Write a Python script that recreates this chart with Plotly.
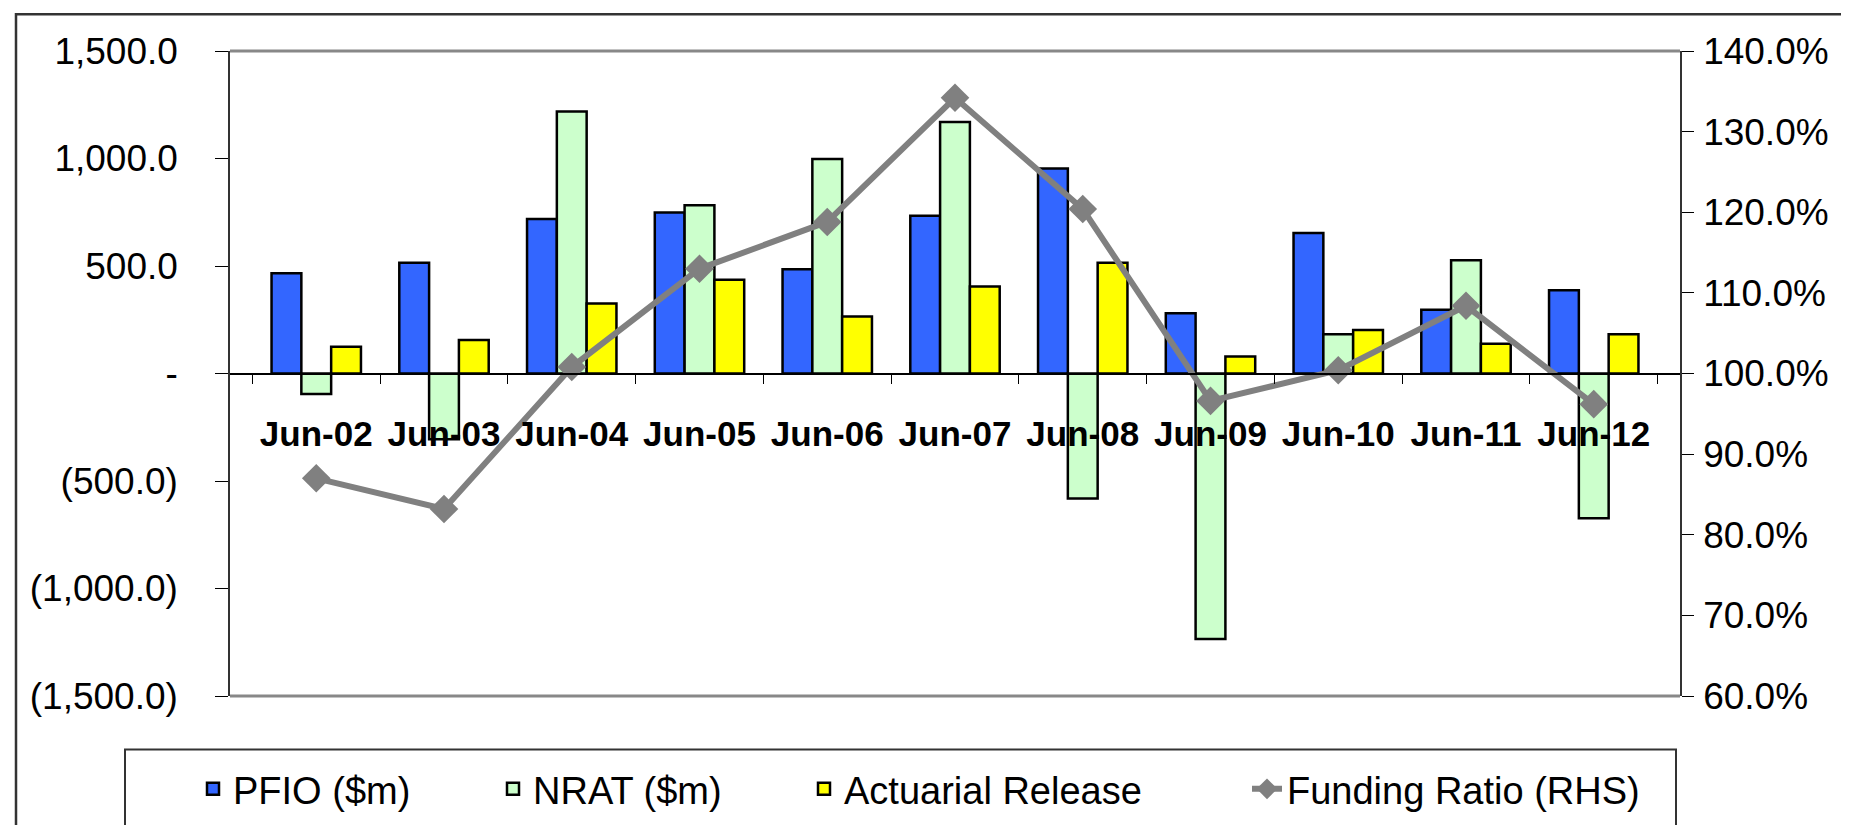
import plotly.graph_objects as go

categories = ["Jun-02", "Jun-03", "Jun-04", "Jun-05", "Jun-06", "Jun-07",
              "Jun-08", "Jun-09", "Jun-10", "Jun-11", "Jun-12"]
pfio = [466, 515, 719, 749, 485, 734, 953, 280, 654, 297, 387]
nrat = [-95, -306, 1219, 783, 998, 1170, -581, -1235, 183, 527, -673]
actuarial = [125, 156, 326, 436, 265, 405, 515, 79, 202, 138, 183]
funding_ratio = [87.0, 83.2, 100.8, 113.0, 118.8, 134.2, 120.4, 96.6, 100.4, 108.4, 96.2]

left_tickvals = [1500, 1000, 500, 0, -500, -1000, -1500]
left_ticktext = ["1,500.0", "1,000.0", "500.0", "-", "(500.0)", "(1,000.0)", "(1,500.0)"]
right_tickvals = [60, 70, 80, 90, 100, 110, 120, 130, 140]
right_ticktext = ["60.0%", "70.0%", "80.0%", "90.0%", "100.0%", "110.0%", "120.0%", "130.0%", "140.0%"]

W, H = 1849, 825
L, R, T, B = 222, 1672, 43, 694
FONT = "Liberation Sans, Arial, sans-serif"


def px(x):
    return (x - L) / (R - L)


def py(y):
    return (B - y) / (B - T)


fig = go.Figure()
fig.add_trace(go.Bar(name="PFIO ($m)", x=categories, y=pfio,
                     marker=dict(color="#3366FF", line=dict(color="black", width=2.5)),
                     legend="legend"))
fig.add_trace(go.Bar(name="NRAT ($m)", x=categories, y=nrat,
                     marker=dict(color="#CCFFCC", line=dict(color="black", width=2.5)),
                     legend="legend2"))
fig.add_trace(go.Bar(name="Actuarial Release", x=categories, y=actuarial,
                     marker=dict(color="#FFFF00", line=dict(color="black", width=2.5)),
                     legend="legend3"))
fig.add_trace(go.Scatter(name="Funding Ratio (RHS)", x=categories, y=funding_ratio,
                         yaxis="y2", mode="lines+markers",
                         line=dict(color="#808080", width=6),
                         marker=dict(symbol="diamond", size=22, color="#808080"),
                         legend="legend4"))

leg_common = dict(orientation="h", yanchor="middle", xanchor="left",
                  y=py(788), bgcolor="rgba(0,0,0,0)", borderwidth=0,
                  font=dict(family=FONT, size=38, color="black"))
text_starts = [230, 530, 841, 1284]

shapes = [
    # outer chart border
    dict(type="rect", xref="paper", yref="paper", x0=px(8), x1=px(1870),
         y0=py(6), y1=py(900), line=dict(color="#333333", width=2.5)),
    # plot frame top and bottom
    dict(type="line", xref="paper", yref="paper", x0=0, x1=1, y0=1, y1=1,
         line=dict(color="#888888", width=3)),
    dict(type="line", xref="paper", yref="paper", x0=0, x1=1, y0=0, y1=0,
         line=dict(color="#888888", width=3)),
    # legend box
    dict(type="rect", xref="paper", yref="paper", x0=px(117), x1=px(1668),
         y0=py(748), y1=py(900), line=dict(color="#333333", width=2)),
]

layout = dict(
    width=W, height=H,
    margin=dict(l=L, r=W - R, t=T, b=H - B, pad=0),
    paper_bgcolor="white", plot_bgcolor="white",
    barmode="group", bargap=0.3, bargroupgap=0,
    font=dict(family=FONT, color="black"),
    xaxis=dict(type="category", anchor="free", position=0.5,
               showline=True, linecolor="black", linewidth=1.5,
               ticks="outside", tickson="boundaries", ticklen=10, tickcolor="black",
               tickwidth=1, showgrid=False, zeroline=False,
               tickfont=dict(family=FONT, size=35, color="black", weight="bold"),
               ticklabelstandoff=30),
    xaxis2=dict(matches="x", overlaying="x", anchor="free", position=0.5,
                type="category", showline=False, showgrid=False, zeroline=False,
                ticks="inside", tickson="boundaries", ticklen=10, tickcolor="black",
                tickwidth=1, showticklabels=False),
    yaxis=dict(range=[-1500, 1500], tickvals=left_tickvals, ticktext=left_ticktext,
               showline=True, linecolor="#333333", linewidth=1.5,
               ticks="outside", ticklen=13, tickcolor="black", showgrid=False,
               zeroline=False, tickfont=dict(family=FONT, size=37, color="black"),
               ticklabelstandoff=30),
    yaxis3=dict(matches="y", overlaying="y", anchor="x", side="left",
                tickvals=left_tickvals, showline=False, showgrid=False, zeroline=False,
                ticks="inside", ticklen=13, tickcolor="black", showticklabels=False),
    yaxis2=dict(range=[60, 140], tickvals=right_tickvals, ticktext=right_ticktext,
                overlaying="y", side="right", anchor="x",
                showline=True, linecolor="#333333", linewidth=1.5,
                ticks="outside", ticklen=12, tickcolor="black", showgrid=False,
                zeroline=False, tickfont=dict(family=FONT, size=37, color="black"),
                ticklabelstandoff=2),
    shapes=shapes,
    showlegend=True,
)
for i, key in enumerate(["legend", "legend2", "legend3", "legend4"]):
    layout[key] = dict(leg_common, x=px(text_starts[i] - 45))

fig.update_layout(**layout)
fig.write_html("out.html")
